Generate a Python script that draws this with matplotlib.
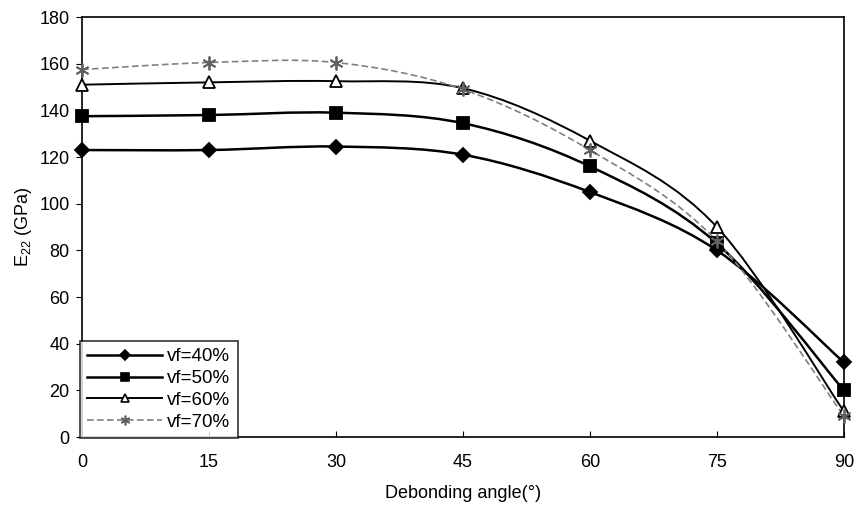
import numpy as np
import matplotlib
matplotlib.use("Agg")
import matplotlib.pyplot as plt
from matplotlib.path import Path
from matplotlib.patches import PathPatch
from matplotlib.lines import Line2D

plt.rcParams['font.family'] = ['Liberation Sans', 'DejaVu Sans']
plt.rcParams['mathtext.default'] = 'regular'

angles = [0, 15, 30, 45, 60, 75, 90]
vf40 = [123, 123, 124.5, 121, 105, 80, 32]
vf50 = [137.5, 138, 139, 134.5, 116, 83, 20]
vf60 = [151, 152, 152.5, 149.5, 127, 90, 11]
vf70 = [157.5, 160.5, 160.5, 149, 123, 84, 9]
labels = ['vf=40%', 'vf=50%', 'vf=60%', 'vf=70%']

fig = plt.figure(figsize=(8.57, 5.16), dpi=100)
ax = fig.add_axes([0.0957, 0.153, 0.889, 0.814])


def smooth_path(x, y, t=1/6):
    x = np.asarray(x, float); y = np.asarray(y, float)
    verts = [(x[0], y[0])]
    codes = [Path.MOVETO]
    n = len(x)
    for i in range(n - 1):
        x0, y0 = (x[i - 1], y[i - 1]) if i > 0 else (x[i], y[i])
        x3, y3 = (x[i + 2], y[i + 2]) if i + 2 < n else (x[i + 1], y[i + 1])
        c1 = (x[i] + (x[i + 1] - x0) * t, y[i] + (y[i + 1] - y0) * t)
        c2 = (x[i + 1] - (x3 - x[i]) * t, y[i + 1] - (y3 - y[i]) * t)
        verts += [c1, c2, (x[i + 1], y[i + 1])]
        codes += [Path.CURVE4] * 3
    return Path(verts, codes)


styles = [
    dict(color='black', lw=1.8, ls='-', marker='D', ms=7, mfc='black', mec='black'),
    dict(color='black', lw=1.8, ls='-', marker='s', ms=8, mfc='black', mec='black'),
    dict(color='black', lw=1.4, ls='-', marker='^', ms=8, mfc='white', mec='black'),
    dict(color='#808080', lw=1.2, ls=(0, (4, 2)), marker=(6, 2, 0), ms=10, mfc='none', mec='#606060'),
]

handles = []
for ys, st, lab in zip([vf40, vf50, vf60, vf70], styles, labels):
    patch = PathPatch(smooth_path(angles, ys), fill=False, edgecolor=st['color'],
                      lw=st['lw'], ls=st['ls'], zorder=2)
    ax.add_patch(patch)
    ax.plot(angles, ys, ls='none', marker=st['marker'], ms=st['ms'],
            mfc=st['mfc'], mec=st['mec'], mew=1.3, zorder=3, clip_on=False)
    handles.append(Line2D([], [], color=st['color'], lw=st['lw'], ls=st['ls'],
                          marker=st['marker'], ms=st['ms'] * 0.7, mfc=st['mfc'],
                          mec=st['mec'], mew=1.2, label=lab))

ax.set_xlim(0, 90)
ax.set_ylim(0, 180)
ax.set_xticks(angles)
ax.set_yticks(np.arange(0, 181, 20))
ax.tick_params(axis='x', direction='in', length=4, labelsize=13, pad=12)
ax.tick_params(axis='y', direction='out', length=4, labelsize=13, pad=5)
for s in ax.spines.values():
    s.set_linewidth(1.2)
    s.set_color('black')

ax.set_xlabel('Debonding angle(°)', fontsize=13, labelpad=10)
ax.set_ylabel('E$_{22}$ (GPa)', fontsize=13, labelpad=4)

leg = ax.legend(handles=handles, loc='lower left', bbox_to_anchor=(-0.003, -0.003),
                fontsize=13.5, frameon=True, fancybox=False, edgecolor='black',
                handlelength=4.0, borderpad=0.4, labelspacing=0.25, handletextpad=0.25,
                borderaxespad=0)
leg.get_frame().set_linewidth(1.2)

fig.savefig('out.png', dpi=100)
